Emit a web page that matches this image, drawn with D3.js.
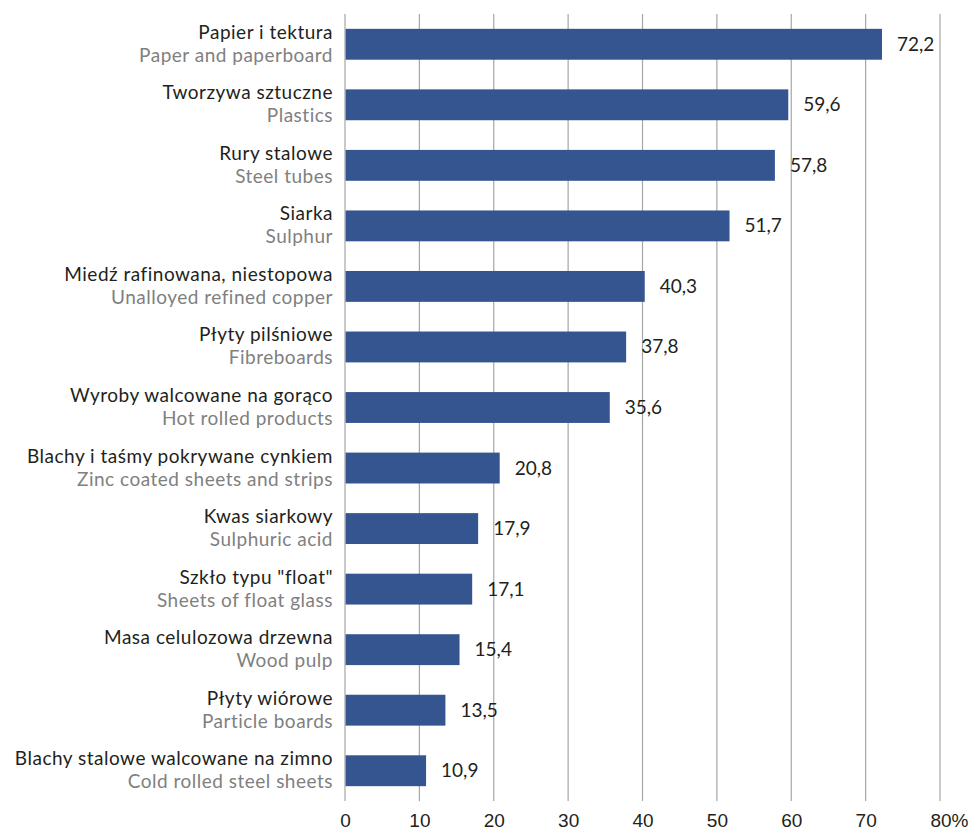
<!DOCTYPE html>
<html lang="pl">
<head>
    <meta charset="UTF-8">
    <title>Produkcja wyrobów</title>
    <script src="https://d3js.org/d3.v7.min.js"></script>
    <style>
        body, html {
            margin: 0;
            padding: 0;
            background: #fff;
        }
        svg {
            display: block;
            font-family: Lato, "Open Sans", sans-serif;
        }
        .grid line {
            stroke: #a6a6a6;
            stroke-width: 1.2;
        }
        .label-pl {
            fill: #231f20;
            font-size: 19px;
            letter-spacing: 0.5px;
            text-anchor: end;
        }
        .label-en {
            fill: #808080;
            font-size: 19px;
            letter-spacing: 0.5px;
            text-anchor: end;
        }
        .value {
            fill: #231f20;
            font-size: 19px;
        }
        .tick text {
            fill: #231f20;
            font-size: 19px;
        }
    </style>
</head>
<body>
    <svg></svg>

    <script>
        const namesPl = [
            "Papier i tektura",
            "Tworzywa sztuczne",
            "Rury stalowe",
            "Siarka",
            "Miedź rafinowana, niestopowa",
            "Płyty pilśniowe",
            "Wyroby walcowane na gorąco",
            "Blachy i taśmy pokrywane cynkiem",
            "Kwas siarkowy",
            "Szkło typu \"float\"",
            "Masa celulozowa drzewna",
            "Płyty wiórowe",
            "Blachy stalowe walcowane na zimno"
        ];
        const namesEn = [
            "Paper and paperboard",
            "Plastics",
            "Steel tubes",
            "Sulphur",
            "Unalloyed refined copper",
            "Fibreboards",
            "Hot rolled products",
            "Zinc coated sheets and strips",
            "Sulphuric acid",
            "Sheets of float glass",
            "Wood pulp",
            "Particle boards",
            "Cold rolled steel sheets"
        ];
        const values = [72.2, 59.6, 57.8, 51.7, 40.3, 37.8, 35.6, 20.8, 17.9, 17.1, 15.4, 13.5, 10.9];
        const ticks = [0, 10, 20, 30, 40, 50, 60, 70, 80];

        const width = 971, height = 831;
        const svg = d3.select("svg").attr("width", width).attr("height", height);

        const x = d3.scaleLinear().domain([0, 80]).range([345, 940]);
        const y = d3.scaleBand()
            .domain(d3.range(values.length))
            .range([14, 801])
            .paddingInner(0.49)
            .paddingOuter(0.245);

        // vertical gridlines
        svg.append("g")
            .attr("class", "grid")
            .selectAll("line")
            .data(ticks)
            .enter().append("line")
            .attr("x1", d => x(d))
            .attr("x2", d => x(d))
            .attr("y1", 14)
            .attr("y2", 801);

        // bars
        svg.append("g")
            .selectAll("rect")
            .data(values)
            .enter().append("rect")
            .attr("x", x(0) + 0.6)
            .attr("y", (d, i) => y(i))
            .attr("width", d => x(d) - x(0) - 0.6)
            .attr("height", y.bandwidth())
            .attr("fill", "#34558f");

        // value labels
        svg.append("g")
            .selectAll("text")
            .data(values)
            .enter().append("text")
            .attr("class", "value")
            .attr("x", d => x(d) + 15)
            .attr("y", (d, i) => y(i) + y.bandwidth() / 2 + 6.5)
            .text(d => d3.format(".1f")(d).replace(".", ","));

        // category labels, two lines
        const labels = svg.append("g")
            .selectAll("g")
            .data(values)
            .enter().append("g")
            .attr("transform", (d, i) => `translate(333,${y(i) + y.bandwidth() / 2})`);

        labels.append("text")
            .attr("class", "label-pl")
            .attr("y", -5.5)
            .text((d, i) => namesPl[i]);

        labels.append("text")
            .attr("class", "label-en")
            .attr("y", 17.5)
            .text((d, i) => namesEn[i]);

        // x axis, no domain line, "%" only after the last tick
        const axis = svg.append("g")
            .attr("transform", "translate(0,801)")
            .call(d3.axisBottom(x).tickValues(ticks).tickSize(0).tickPadding(13));
        axis.select(".domain").remove();
        axis.selectAll(".tick text").attr("font-family", null).attr("font-size", null);

        axis.selectAll(".tick text")
            .filter(d => d === 80)
            .attr("text-anchor", "start")
            .attr("dx", "-0.53em")
            .text("80%");
    </script>
</body>
</html>
